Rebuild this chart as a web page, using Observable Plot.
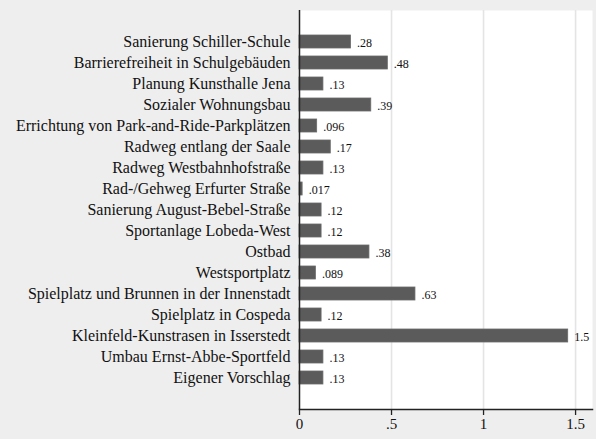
<!DOCTYPE html>
<html>
<head>
<meta charset="utf-8">
<script src="https://cdn.jsdelivr.net/npm/d3@7"></script>
<script src="https://cdn.jsdelivr.net/npm/@observablehq/plot@0.6"></script>
<style>
  html, body { margin: 0; padding: 0; background: #eeeeee; }
  #chart svg { display: block; background: #eeeeee; }
  #chart svg, #chart svg text { font-family: "Liberation Serif", "Times New Roman", serif !important; }
</style>
</head>
<body>
<div id="chart"></div>
<script>
const categories = [
  "Sanierung Schiller-Schule",
  "Barrierefreiheit in Schulgebäuden",
  "Planung Kunsthalle Jena",
  "Sozialer Wohnungsbau",
  "Errichtung von Park-and-Ride-Parkplätzen",
  "Radweg entlang der Saale",
  "Radweg Westbahnhofstraße",
  "Rad-/Gehweg Erfurter Straße",
  "Sanierung August-Bebel-Straße",
  "Sportanlage Lobeda-West",
  "Ostbad",
  "Westsportplatz",
  "Spielplatz und Brunnen in der Innenstadt",
  "Spielplatz in Cospeda",
  "Kleinfeld-Kunstrasen in Isserstedt",
  "Umbau Ernst-Abbe-Sportfeld",
  "Eigener Vorschlag"
];
const values = [0.28, 0.48, 0.13, 0.39, 0.096, 0.17, 0.13, 0.017, 0.12, 0.12, 0.38, 0.089, 0.63, 0.12, 1.46, 0.13, 0.13];
const xTicks = [0, 0.5, 1, 1.5];

const data = categories.map((c, i) => ({cat: c, value: values[i]}));
const fmtVal = v => d3.format(".2g")(v).replace(/^0\./, ".");
const fmtTick = v => v === 0 ? "0" : String(v).replace(/^0\./, ".");

const chart = Plot.plot({
  width: 596,
  height: 439,
  marginLeft: 299,
  marginRight: 4,
  marginTop: 10,
  marginBottom: 30,
  style: {background: "#eeeeee", color: "#111"},
  x: {domain: [0, 1.592], label: null},
  y: {domain: categories, paddingInner: 0.38, paddingOuter: 0.84, label: null},
  marks: [
    Plot.frame({fill: "#ffffff", stroke: "none"}),
    Plot.gridX(xTicks.filter(d => d > 0), {stroke: "#e4e4e4", strokeWidth: 1.6, strokeOpacity: 1}),
    Plot.barX(data, {x: "value", y: "cat", fill: "#5b5b5b", stroke: "#6a6a6a", strokeWidth: 0.8}),
    Plot.text(data, {x: "value", y: "cat", text: d => fmtVal(d.value), textAnchor: "start", dx: 6, dy: 1, fontSize: 12, fill: "#111"}),
    Plot.ruleX([0], {stroke: "#222", strokeWidth: 1.5}),
    Plot.frame({anchor: "bottom", stroke: "#222", strokeWidth: 1.5, strokeOpacity: 1}),
    Plot.axisX({ticks: xTicks, tickFormat: fmtTick, tickSize: 6, tickPadding: 3, fontSize: 15, stroke: "#222", strokeWidth: 1.3, label: null, fill: "#111"}),
    Plot.axisY({tickSize: 0, tickPadding: 9, fontSize: 16, label: null, fill: "#111"})
  ]
});
document.getElementById("chart").appendChild(chart);
</script>
</body>
</html>
